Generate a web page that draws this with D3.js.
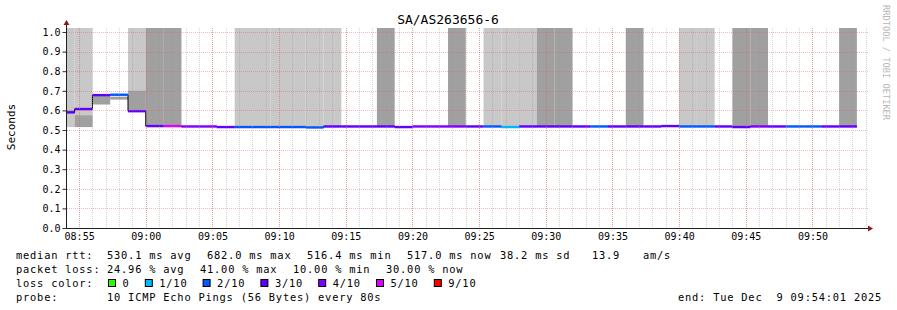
<!DOCTYPE html>
<html>
<head>
<meta charset="utf-8">
<script src="https://cdnjs.cloudflare.com/ajax/libs/d3/7.8.5/d3.min.js"></script>
<style>
  body { margin: 0; background: #fff; }
  svg text { font-family: "DejaVu Sans Mono", monospace; fill: #000; }
</style>
</head>
<body>
<div id="chart"></div>
<script>
// smokeping style graph, 80s steps
var title = "SA/AS263656-6";
var firstBin = new Date(2025, 11, 9, 8, 53, 20);
var stepSec = 80;
var viewStart = new Date(2025, 11, 9, 8, 54, 1);
var viewEnd = new Date(2025, 11, 9, 9, 54, 1);

// median rtt (s) per bin
var median = [0.590, 0.607, 0.678, 0.680, 0.596, 0.520, 0.520, 0.518, 0.518, 0.515,
              0.515, 0.515, 0.515, 0.515, 0.513, 0.518, 0.518, 0.518, 0.518, 0.515,
              0.518, 0.518, 0.518, 0.518, 0.518, 0.515, 0.518, 0.518, 0.518, 0.518,
              0.518, 0.518, 0.518, 0.518, 0.520, 0.518, 0.518, 0.518, 0.515, 0.518,
              0.518, 0.518, 0.518, 0.518, 0.518];
// lost pings out of 10
var loss = [3, 3, 3, 2, 3, 3, 5, 4, 4, 3,
            2, 2, 2, 2, 2, 3, 3, 3, 3, 3,
            4, 4, 4, 3, 2, 1, 3, 3, 3, 3,
            2, 3, 3, 3, 3, 2, 2, 3, 3, 4,
            3, 2, 2, 3, 3];
// smoke, outer ping pair (light) and inner pair (dark); 2 = off the top
var lightLo = [0.515, 0.515, null, null, 0.596, 0.52, 0.52, null, null, null,
               0.515, 0.515, 0.515, 0.515, 0.515, 0.518, null, null, null, null,
               null, null, null, null, 0.518, 0.518, 0.518, null, null, null,
               null, null, null, null, null, 0.518, 0.518, null, null, null,
               null, null, null, null, null];
var lightHi = [2, 2, null, null, 2, 2, 2, null, null, null,
               2, 2, 2, 2, 2, 2, null, null, null, null,
               null, null, null, null, 2, 2, 2, null, null, null,
               null, null, null, null, null, 2, 2, null, null, null,
               null, null, null, null, null];
var darkLo = [0.585, 0.515, 0.630, 0.655, 0.597, 0.52, 0.52, null, null, null,
              null, null, null, null, null, null, null, null, 0.518, null,
              null, null, 0.518, null, null, null, null, 0.518, 0.518, null,
              null, null, 0.518, null, null, null, null, null, 0.515, 0.518,
              null, null, null, null, 0.518];
var darkHi = [0.600, 0.575, 0.675, 0.670, 0.700, 2, 2, null, null, null,
              null, null, null, null, null, null, null, null, 2, null,
              null, null, 2, null, null, null, null, 2, 2, null,
              null, null, 2, null, null, null, null, null, 2, 2,
              null, null, null, null, 2];

var yTicks = [0, 0.1, 0.2, 0.3, 0.4, 0.5, 0.6, 0.7, 0.8, 0.9, 1.0];
var yMax = 1.0204;
var lossLevels = [0, 1, 2, 3, 4, 5, 9];
var lossLabels = ["0", "1/10", "2/10", "3/10", "4/10", "5/10", "9/10"];
var lossColors = ["#26ff00", "#00b8ff", "#0059ff", "#5e00ff", "#7e00ff", "#dd00ff", "#ff0000"];

var rttLabel = "median rtt:";
var rttStats = ["530.1 ms avg", "682.0 ms max", "516.4 ms min", "517.0 ms now", "38.2 ms sd", "13.9", "am/s"];
var lossLabel = "packet loss:";
var lossStats = ["24.96 % avg", "41.00 % max", "10.00 % min", "30.00 % now"];
var probeText = "10 ICMP Echo Pings (56 Bytes) every 80s";
var endText = "end: Tue Dec  9 09:54:01 2025";

var W = 897, H = 310;
var margin = {left: 66, top: 28, right: 31, bottom: 82};
var pw = 800, ph = 200;

var svg = d3.select("#chart").append("svg")
  .attr("width", W).attr("height", H);

svg.append("rect").attr("width", W).attr("height", H).attr("fill", "#fff");

var x = d3.scaleTime().domain([viewStart, viewEnd]).range([margin.left, margin.left + pw]);
var y = d3.scaleLinear().domain([0, yMax]).range([margin.top + ph, margin.top]);

svg.append("clipPath").attr("id", "plotclip")
  .append("rect").attr("x", margin.left).attr("y", margin.top).attr("width", pw).attr("height", ph);

var bins = median.map(function(m, i) {
  var t0 = new Date(firstBin.getTime() + i * stepSec * 1000);
  var t1 = new Date(t0.getTime() + stepSec * 1000);
  return {t0: t0, t1: t1, median: m, loss: loss[i],
          lightLo: lightLo[i], lightHi: lightHi[i], darkLo: darkLo[i], darkHi: darkHi[i]};
});

var plot = svg.append("g").attr("clip-path", "url(#plotclip)");

// smoke
plot.selectAll(".light").data(bins.filter(function(d) { return d.lightLo != null; }))
  .enter().append("rect").attr("class", "light")
  .attr("x", function(d) { return x(d.t0); })
  .attr("width", function(d) { return x(d.t1) - x(d.t0); })
  .attr("y", function(d) { return y(d.lightHi); })
  .attr("height", function(d) { return y(d.lightLo) - y(d.lightHi); })
  .attr("fill", "#c8c8c8");

plot.selectAll(".dark").data(bins.filter(function(d) { return d.darkLo != null; }))
  .enter().append("rect").attr("class", "dark")
  .attr("x", function(d) { return x(d.t0); })
  .attr("width", function(d) { return x(d.t1) - x(d.t0); })
  .attr("y", function(d) { return y(d.darkHi); })
  .attr("height", function(d) { return y(d.darkLo) - y(d.darkHi); })
  .attr("fill", "#a0a0a0");

// grid
var minorT = d3.timeMinute.every(1).range(viewStart, viewEnd);
var majorT = d3.timeMinute.every(5).range(viewStart, viewEnd);

svg.append("g").selectAll("line").data(minorT).enter().append("line")
  .attr("x1", function(d) { return Math.round(x(d)) + 0.5; })
  .attr("x2", function(d) { return Math.round(x(d)) + 0.5; })
  .attr("y1", margin.top).attr("y2", margin.top + ph)
  .attr("stroke", "rgba(150,150,150,0.4)").attr("stroke-dasharray", "1,1");

svg.append("g").selectAll("line").data(majorT).enter().append("line")
  .attr("x1", function(d) { return Math.round(x(d)) + 0.5; })
  .attr("x2", function(d) { return Math.round(x(d)) + 0.5; })
  .attr("y1", margin.top).attr("y2", margin.top + ph + 3)
  .attr("stroke", "rgba(235,90,90,0.4)").attr("stroke-dasharray", "1,1");

svg.append("g").selectAll("line").data(yTicks).enter().append("line")
  .attr("x1", margin.left - 3).attr("x2", margin.left + pw + 3)
  .attr("y1", function(d) { return Math.round(y(d)) + 0.5; })
  .attr("y2", function(d) { return Math.round(y(d)) + 0.5; })
  .attr("stroke", "rgba(235,90,90,0.4)").attr("stroke-dasharray", "1,1");

// median: black step line, then coloured band per loss
var stepPts = [];
bins.forEach(function(d) { stepPts.push([x(d.t0), y(d.median)]); stepPts.push([x(d.t1), y(d.median)]); });
plot.append("path")
  .attr("d", d3.line()(stepPts))
  .attr("fill", "none").attr("stroke", "#000").attr("stroke-width", 1);

function lossColor(l) {
  var idx = 0;
  for (var k = 0; k < lossLevels.length; k++) { if (l >= lossLevels[k]) idx = k; }
  return lossColors[idx];
}
var sw = yMax / ph;
plot.selectAll(".med").data(bins).enter().append("rect").attr("class", "med")
  .attr("x", function(d) { return x(d.t0); })
  .attr("width", function(d) { return x(d.t1) - x(d.t0); })
  .attr("y", function(d) { return y(d.median + sw * 1.2); })
  .attr("height", function(d) { return y(d.median - sw * 1.2) - y(d.median + sw * 1.2); })
  .attr("fill", function(d) { return lossColor(d.loss); });

// axes
var yAxis = d3.axisLeft(y).tickValues(yTicks).tickSize(4).tickFormat(d3.format(".1f"));
var ga = svg.append("g").attr("transform", "translate(" + (margin.left + 0.5) + ",0)").call(yAxis);
ga.select(".domain").remove();
ga.selectAll("line").attr("stroke", "#333");
ga.selectAll("text").attr("font-size", "10px").attr("font-family", "DejaVu Sans Mono").attr("x", -6);

var xAxis = d3.axisBottom(x).tickValues(majorT).tickSize(0).tickFormat(d3.timeFormat("%H:%M"));
var gx = svg.append("g").attr("transform", "translate(0," + (margin.top + ph) + ")").call(xAxis);
gx.select(".domain").remove();
gx.selectAll("text").attr("font-size", "10px").attr("font-family", "DejaVu Sans Mono").attr("y", 5);

svg.append("line").attr("x1", margin.left + 0.5).attr("x2", margin.left + 0.5)
  .attr("y1", margin.top - 4).attr("y2", margin.top + ph + 0.5).attr("stroke", "#202020");
svg.append("line").attr("x1", margin.left).attr("x2", margin.left + pw + 4)
  .attr("y1", margin.top + ph + 0.5).attr("y2", margin.top + ph + 0.5).attr("stroke", "#202020");
svg.append("path").attr("d", "M" + (margin.left - 2.5) + "," + (margin.top - 3) + " L" + (margin.left + 3.5) + "," + (margin.top - 3) + " L" + (margin.left + 0.5) + "," + (margin.top - 8) + " Z")
  .attr("fill", "#8b1a1a");
var ax = margin.left + pw + 2, ay = margin.top + ph + 0.5;
svg.append("path").attr("d", "M" + ax + "," + (ay - 3) + " L" + ax + "," + (ay + 3) + " L" + (ax + 5) + "," + ay + " Z")
  .attr("fill", "#8b1a1a");

// titles
svg.append("text").attr("x", 448).attr("y", 24).attr("text-anchor", "middle")
  .attr("font-size", "13px").text(title);
svg.append("text").attr("transform", "translate(15,127) rotate(-90)").attr("text-anchor", "middle")
  .attr("font-size", "11px").text("Seconds");
svg.append("text").attr("transform", "translate(883,5) rotate(90)")
  .attr("font-size", "8.7px").style("fill", "#b8b8b8").text("RRDTOOL / TOBI OETIKER");

// legend
var lg = svg.append("g").attr("font-size", "10.4px").attr("letter-spacing", "0.78px");
var cols = [107, 207, 307, 407, 500, 592, 643];
lg.append("text").attr("x", 16).attr("y", 258.5).text(rttLabel);
rttStats.forEach(function(s, i) { lg.append("text").attr("x", cols[i]).attr("y", 258.5).text(s); });
var lcols = [107, 200, 293, 386];
lg.append("text").attr("x", 16).attr("y", 272.5).text(lossLabel);
lossStats.forEach(function(s, i) { lg.append("text").attr("x", lcols[i]).attr("y", 272.5).text(s); });
lg.append("text").attr("x", 16).attr("y", 286.5).text("loss color:");
var bx = 108;
lossLabels.forEach(function(s, i) {
  lg.append("rect").attr("x", bx + 0.5).attr("y", 279.5).attr("width", 7).attr("height", 7)
    .attr("fill", lossColors[i]).attr("stroke", "#000");
  lg.append("text").attr("x", bx + 14.5).attr("y", 286.5).text(s);
  bx = bx + 14.5 + s.length * 7 + 15.3;
});
lg.append("text").attr("x", 16).attr("y", 300.5).text("probe:");
lg.append("text").attr("x", 107).attr("y", 300.5).text(probeText);
lg.append("text").attr("x", 678).attr("y", 300.5).style("white-space", "pre").text(endText);
</script>
</body>
</html>
